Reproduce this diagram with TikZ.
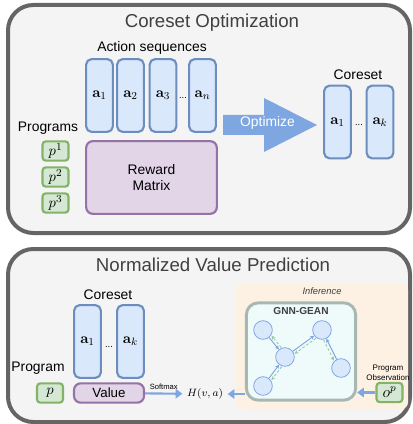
\documentclass[tikz,border=0pt]{standalone}
\usepackage[no-math]{fontspec}
\setmainfont{Liberation Sans}
\usetikzlibrary{arrows.meta}
\definecolor{panelfill}{HTML}{F4F4F4}
\definecolor{paneldraw}{HTML}{656565}
\definecolor{titlegray}{HTML}{404040}
\definecolor{actfill}{HTML}{DAE8FC}
\definecolor{actdraw}{HTML}{6C8EBF}
\definecolor{rewfill}{HTML}{E1D5E7}
\definecolor{rewdraw}{HTML}{9673A6}
\definecolor{progfill}{HTML}{D5E8D4}
\definecolor{progdraw}{HTML}{82B366}
\definecolor{optblue}{HTML}{7EA6E0}
\definecolor{inferfill}{HTML}{FDF1E3}
\definecolor{gnnfill}{HTML}{EFFAFA}
\definecolor{gnndraw}{HTML}{A7B7B1}
\definecolor{msggreen}{HTML}{99C9AC}

\begin{document}
\begin{tikzpicture}[x=0.75pt, y=-0.75pt,
        panel/.style={draw=paneldraw, fill=panelfill, line width=3pt, rounded corners=19pt},
        paneltitle/.style={text=titlegray, font=\fontsize{14}{16}\selectfont},
        lbl/.style={font=\fontsize{10.4}{12}\selectfont},
        dots/.style={font=\fontsize{7}{8}\selectfont, inner sep=0pt},
        actbox/.style={draw=actdraw, fill=actfill, line width=1.6pt, rounded corners=4pt, minimum width=20pt, minimum height=54.5pt, inner sep=0pt, font=\fontsize{11}{12}\selectfont},
        rewbox/.style={draw=rewdraw, fill=rewfill, line width=1.6pt, rounded corners=5pt, inner sep=0pt, align=center},
        progbox/.style={draw=progdraw, fill=progfill, line width=1.6pt, rounded corners=2.5pt, minimum width=19.5pt, minimum height=14.5pt, inner sep=0pt, font=\fontsize{11}{12}\selectfont},
        gnode/.style={circle, draw=optblue, fill=actfill, line width=0.6pt, minimum size=14pt, inner sep=0pt},
        fwd/.style={draw=optblue, line width=0.7pt, -{Stealth[length=3pt,width=3pt]}},
        back/.style={draw=msggreen, line width=0.7pt, dashed, dash pattern=on 2pt off 1.5pt, -{Stealth[length=3pt,width=3pt]}},
        flow/.style={draw=optblue, line width=1.6pt, -{Triangle[length=5pt,width=7pt]}}
    ]
    \useasboundingbox (0,0) rectangle (412,424);

    \draw[panel] (8,5) rectangle (410,233);
    \node[paneltitle] (title1) at (212,23) {Coreset Optimization};

    \node[lbl] (actlbl) at (152,48) {Action sequences};
    \node[actbox] (a1) at (99.5,95.5) {$\mathbf{a}_1$};
    \node[actbox] (a2) at (130.5,95.5) {$\mathbf{a}_2$};
    \node[actbox] (a3) at (163,95.5) {$\mathbf{a}_3$};
    \node[actbox] (an) at (202.5,95.5) {$\mathbf{a}_n$};
    \node[dots] (adots) at (183,98) {...};

    \node[rewbox, lbl, minimum width=98pt, minimum height=54.5pt] (rew) at (151.5,177.5) {Reward\\Matrix};

    \node[lbl] (proglbl) at (48,128) {Programs};
    \node[progbox] (p1) at (55.5,151) {$p^1$};
    \node[progbox] (p2) at (55.5,177) {$p^2$};
    \node[progbox] (p3) at (55.5,203) {$p^3$};

    \fill[optblue] (223,115) -- (264,115) -- (264,98) -- (317,125) -- (264,152) -- (264,135) -- (223,135) -- cycle;
    \node[lbl, text=white] (opt) at (267.5,122.5) {Optimize};

    \node[lbl] (corelbl) at (358,75) {Coreset};
    \node[actbox] (c1) at (337.5,122) {$\mathbf{a}_1$};
    \node[actbox] (ck) at (380,122) {$\mathbf{a}_k$};
    \node[dots] (cdots) at (359,125) {...};

    \draw[panel] (8,249) rectangle (410,422);
    \node[paneltitle] (title2) at (213,265) {Normalized Value Prediction};

    \node[lbl] (corelbl2) at (108,295) {Coreset};
    \node[actbox] (v1) at (87.5,341.5) {$\mathbf{a}_1$};
    \node[actbox] (vk) at (130.5,341.5) {$\mathbf{a}_k$};
    \node[dots] (vdots) at (109,347) {...};

    \node[lbl] (proglbl2) at (38,368) {Program};
    \node[progbox] (p) at (50,393) {$p$};
    \node[rewbox, font=\fontsize{10}{12}\selectfont, minimum width=52.5pt, minimum height=14.5pt] (val) at (109,393) {Value};

    \fill[inferfill, rounded corners=5pt] (235,283) rectangle (408,409);
    \node[font=\itshape\fontsize{7}{8}\selectfont, text=titlegray] (inflbl) at (322,291) {Inference};
    \node[draw=gnndraw, fill=gnnfill, line width=2.2pt, rounded corners=9pt, minimum width=82pt, minimum height=73pt] (gnn) at (301,351.5) {};
    \node[font=\bfseries\fontsize{7.6}{9}\selectfont, text=titlegray] (gnnlbl) at (301,311) {GNN-GEAN};

    \node[gnode] (n1) at (263,330) {};
    \node[gnode] (n2) at (322,330) {};
    \node[gnode] (n3) at (285,357) {};
    \node[gnode] (n4) at (341,368) {};
    \node[gnode] (n5) at (263,386) {};
    \draw[fwd] (n1) -- (n3);
    \draw[fwd] (n3) -- (n2);
    \draw[fwd] (n4) -- (n2);
    \draw[fwd] (n5) -- (n3);
    \draw[back, transform canvas={shift={(1.8pt,1.4pt)}}] (n3) -- (n1);
    \draw[back, transform canvas={shift={(1.3pt,-1.9pt)}}] (n2) -- (n3);
    \draw[back, transform canvas={shift={(-2pt,-1pt)}}] (n2) -- (n4);
    \draw[back, transform canvas={shift={(1.9pt,-1.4pt)}}] (n3) -- (n5);

    \node[font=\fontsize{8}{9}\selectfont] (h) at (205,394) {$H(v,a)$};
    \node[font=\fontsize{6}{7.5}\selectfont, align=center] (obslbl) at (388,373) {Program\\Observation};
    \node[progbox, font=\fontsize{12}{13}\selectfont] (op) at (389.5,392.5) {$o^p$};

    \draw[flow] (val) -- node[above=-1pt, font=\fontsize{5.7}{6}\selectfont] {Softmax} (h);
    \draw[flow] (gnn.west |- h) -- (h);
    \draw[flow] (op) -- (op -| gnn.east);
\end{tikzpicture}
\end{document}
